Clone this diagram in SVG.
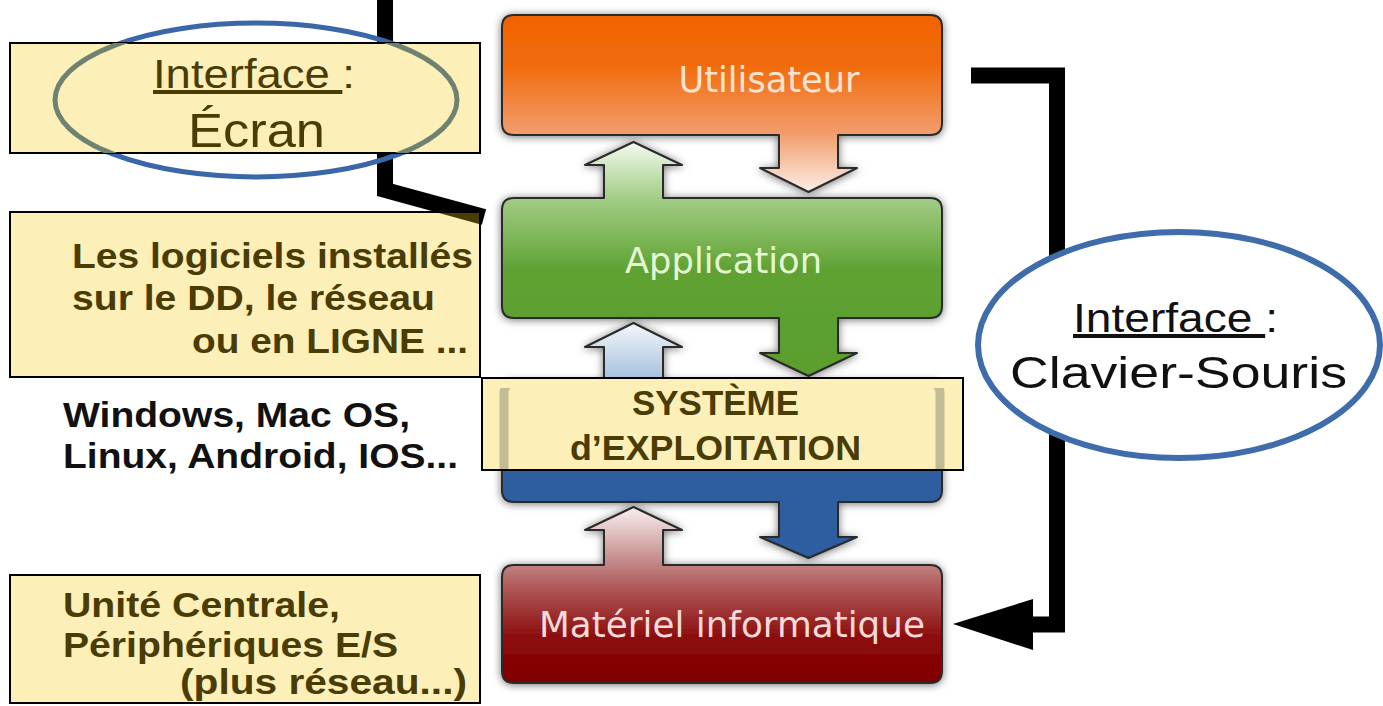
<svg xmlns="http://www.w3.org/2000/svg" width="1383" height="706" viewBox="0 0 1383 706">
<style>
.layer{stroke:#2a2a2a;stroke-width:2;stroke-linejoin:round;filter:url(#shadow)}
.ltxt{font-family:"DejaVu Sans","Liberation Sans",sans-serif;font-size:35px;text-anchor:middle}
.ybox{fill:#fdefb8;stroke:#000;stroke-width:2}
.btxt{font-family:"Liberation Sans",Arial,sans-serif;font-weight:bold;font-size:35px;fill:#4a3c05}
.ntxt{font-family:"Liberation Sans",Arial,sans-serif;fill:#4a3c05}
.conn{fill:none;stroke:#000;stroke-width:16;stroke-linejoin:miter}
</style>
<defs>
<filter id="shadow" x="-10%" y="-10%" width="120%" height="120%">
<feDropShadow dx="0" dy="1" stdDeviation="4" flood-color="#000" flood-opacity="0.55"/>
</filter>
<linearGradient id="gUser" gradientUnits="userSpaceOnUse" x1="0" y1="15" x2="0" y2="192">
<stop offset="0" stop-color="#f06300"/><stop offset="0.28" stop-color="#f16b0c"/><stop offset="0.67" stop-color="#f19d6d"/><stop offset="1" stop-color="#fbeee6"/>
</linearGradient>
<linearGradient id="gApp" gradientUnits="userSpaceOnUse" x1="0" y1="142" x2="0" y2="376">
<stop offset="0" stop-color="#f4f9f0"/><stop offset="0.239" stop-color="#a2cd86"/><stop offset="0.547" stop-color="#5fa233"/><stop offset="1" stop-color="#5a9e2e"/>
</linearGradient>
<linearGradient id="gOS" gradientUnits="userSpaceOnUse" x1="0" y1="323" x2="0" y2="558">
<stop offset="0" stop-color="#f3f7fb"/><stop offset="0.234" stop-color="#a8c1de"/><stop offset="0.5" stop-color="#3a6aab"/><stop offset="0.62" stop-color="#2d5da0"/><stop offset="1" stop-color="#2d5da0"/>
</linearGradient>
<linearGradient id="gMat" gradientUnits="userSpaceOnUse" x1="0" y1="507" x2="0" y2="683">
<stop offset="0" stop-color="#faf0f0"/><stop offset="0.318" stop-color="#c28686"/><stop offset="0.45" stop-color="#b05a5a"/><stop offset="0.75" stop-color="#8b0a0a"/><stop offset="1" stop-color="#800000"/>
</linearGradient>
<clipPath id="clipBox1"><rect x="10" y="43" width="470" height="110"/></clipPath>
<clipPath id="clipBox2"><rect x="11" y="213" width="468" height="163"/></clipPath>
<clipPath id="clipLabel"><rect x="483" y="388" width="479" height="81"/></clipPath>
</defs>

<g id="connectors">
<path id="conn-ecran" class="conn" d="M385,0 V190 L484,217"/>
<path id="conn-clavier" class="conn" d="M971,75.5 H1057 V624.5 H1033"/>
<polygon points="953,624 1033,599 1033,650" fill="#000"/>
</g>

<g id="node-utilisateur">
<path class="layer" fill="url(#gUser)" d="M514,15 H930 Q942,15 942,27 V123 Q942,135 930,135 H838 V168 H857 L808.5,192 L760,168 H779 V135 H514 Q502,135 502,123 V27 Q502,15 514,15 Z"/>
<text class="ltxt" x="769" y="92" fill="#fde3cf" textLength="181" lengthAdjust="spacingAndGlyphs">Utilisateur</text>
</g>

<g id="node-application">
<path class="layer" fill="url(#gApp)" d="M514,198 H604 V165 H585 L633.5,142 L682,165 H663 V198 H930 Q942,198 942,210 V306 Q942,318 930,318 H838 V353 H857 L808.5,376 L760,353 H779 V318 H514 Q502,318 502,306 V210 Q502,198 514,198 Z"/>
<text class="ltxt" x="723.5" y="273" fill="#e6f5d3" textLength="197" lengthAdjust="spacingAndGlyphs">Application</text>
</g>

<g id="node-os">
<path class="layer" fill="url(#gOS)" d="M514,381 H604 V347 H585 L633.5,323 L682,347 H663 V381 H930 Q942,381 942,393 V490 Q942,502 930,502 H838 V537 H857 L808.5,558 L760,537 H779 V502 H514 Q502,502 502,490 V393 Q502,381 514,381 Z"/>
</g>

<g id="node-materiel">
<path class="layer" fill="url(#gMat)" d="M514,565 H604 V530 H585 L633.5,507 L682,530 H663 V565 H930 Q942,565 942,577 V671 Q942,683 930,683 H514 Q502,683 502,671 V577 Q502,565 514,565 Z"/>
<text class="ltxt" x="732" y="637" fill="#f7dada" font-size="37" textLength="386" lengthAdjust="spacingAndGlyphs">Matériel informatique</text>
</g>

<g id="node-os-label">
<rect class="ybox" x="482" y="378" width="481" height="92" stroke-width="1.5"/>
<rect x="504" y="381" width="436" height="121" rx="12" fill="none" stroke="#6a7260" stroke-width="9" opacity="0.4" clip-path="url(#clipLabel)"/>
<text class="btxt" x="715.5" y="415" font-size="31" text-anchor="middle" textLength="167" lengthAdjust="spacingAndGlyphs">SYSTÈME</text>
<text class="btxt" x="715.5" y="460" font-size="31" text-anchor="middle" textLength="291" lengthAdjust="spacingAndGlyphs">d’EXPLOITATION</text>
</g>

<g id="node-interface-ecran">
<ellipse cx="256" cy="100" rx="201" ry="77" fill="none" stroke="#3a67a8" stroke-width="5"/>
<rect class="ybox" x="10" y="43" width="470" height="110"/>
<ellipse cx="256" cy="100" rx="201" ry="77" fill="none" stroke="#6f8272" stroke-width="5" clip-path="url(#clipBox1)"/>
<text class="ntxt" x="153" y="88" font-size="40" textLength="202" lengthAdjust="spacingAndGlyphs"><tspan text-decoration="underline" style="white-space:pre">Interface </tspan>:</text>
<text class="ntxt" x="188" y="147" font-size="49" textLength="137" lengthAdjust="spacingAndGlyphs">Écran</text>
</g>

<g id="node-logiciels">
<rect class="ybox" x="10" y="212" width="470" height="165"/>
<path d="M385,0 V190 L484,217" fill="none" stroke="#4a3c05" stroke-width="16" stroke-linejoin="miter" clip-path="url(#clipBox2)"/>
<text class="btxt" x="72" y="268" textLength="401" lengthAdjust="spacingAndGlyphs">Les logiciels installés</text>
<text class="btxt" x="72" y="310" textLength="363" lengthAdjust="spacingAndGlyphs">sur le DD, le réseau</text>
<text class="btxt" x="192" y="353" textLength="276" lengthAdjust="spacingAndGlyphs">ou en LIGNE ...</text>
</g>

<g id="node-os-examples">
<text class="btxt" x="63" y="427" style="fill:#111" font-size="34" textLength="347" lengthAdjust="spacingAndGlyphs">Windows, Mac OS,</text>
<text class="btxt" x="63" y="468" style="fill:#111" font-size="34" textLength="395" lengthAdjust="spacingAndGlyphs">Linux, Android, IOS...</text>
</g>

<g id="node-materiel-desc">
<rect class="ybox" x="10" y="575" width="470" height="128"/>
<text class="btxt" x="63" y="617" textLength="277" lengthAdjust="spacingAndGlyphs">Unité Centrale,</text>
<text class="btxt" x="63" y="657" textLength="335" lengthAdjust="spacingAndGlyphs">Périphériques E/S</text>
<text class="btxt" x="180" y="694" textLength="287" lengthAdjust="spacingAndGlyphs">(plus réseau...)</text>
</g>

<g id="node-interface-clavier">
<ellipse cx="1179" cy="345" rx="201" ry="113" fill="#fff" stroke="#3f6dab" stroke-width="6"/>
<text x="1073" y="332" font-family="Liberation Sans, Arial, sans-serif" font-size="40" fill="#111" textLength="205" lengthAdjust="spacingAndGlyphs"><tspan text-decoration="underline" style="white-space:pre">Interface </tspan>:</text>
<text x="1010" y="388" font-family="Liberation Sans, Arial, sans-serif" font-size="44" fill="#111" textLength="337" lengthAdjust="spacingAndGlyphs">Clavier-Souris</text>
</g>
</svg>
